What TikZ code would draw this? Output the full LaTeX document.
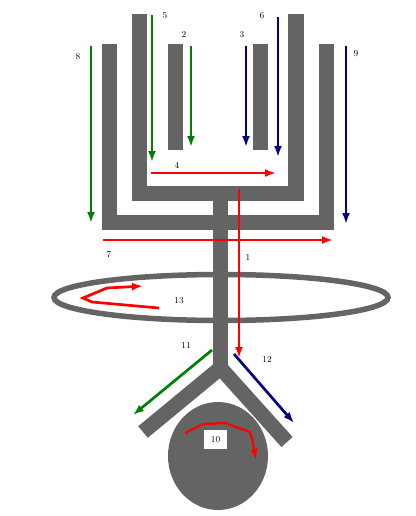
\documentclass[tikz,border=0pt]{standalone}
\usepackage{tikz}
\usetikzlibrary{arrows.meta}
\definecolor{bodygray}{RGB}{100,100,100}
\definecolor{flowgreen}{RGB}{0,128,0}
\definecolor{flowblue}{RGB}{0,0,128}
\tikzset{
	flow/.style={line width=2.7pt, -{Latex[length=11pt,width=8pt]}},
	greenflow/.style={flow, flowgreen},
	blueflow/.style={flow, flowblue},
	redflow/.style={flow, red},
	numlabel/.style={font=\fontsize{9}{10}\selectfont, inner sep=0pt}
}

\begin{document}
\begin{tikzpicture}[x=1pt,y=-1pt]
			\useasboundingbox (0,0) rectangle (415,516);
			
			% gray body
			\fill[bodygray] (132,14) rectangle (147,201);
			\fill[bodygray] (288,14) rectangle (304,201);
			\fill[bodygray] (132,186) rectangle (304,201);
			\fill[bodygray] (102,44) rectangle (117,230);
			\fill[bodygray] (319,44) rectangle (334,230);
			\fill[bodygray] (102,215) rectangle (334,230);
			\fill[bodygray] (168,44) rectangle (183,150);
			\fill[bodygray] (253,44) rectangle (268,150);
			\fill[bodygray] (213,201) rectangle (228,372);
			\draw[bodygray, line width=15pt, line join=miter] (143,432) -- (220.5,368) -- (287,442);
			\draw[bodygray, line width=5.5pt] (221,297.5) ellipse [x radius=167, y radius=23];
			\fill[bodygray] (218,456) ellipse [x radius=50, y radius=54];
			
			% arrow end points
			\coordinate (s5) at (152,15);   \coordinate (e5) at (152,162);
			\coordinate (s2) at (191,46);   \coordinate (e2) at (191,147);
			\coordinate (s3) at (246,46);   \coordinate (e3) at (246,147);
			\coordinate (s6) at (278,17);   \coordinate (e6) at (278,157);
			\coordinate (s8) at (91,46);    \coordinate (e8) at (91,223);
			\coordinate (s9) at (346,46);   \coordinate (e9) at (346,224);
			\coordinate (s4) at (151,173);  \coordinate (e4) at (276,173);
			\coordinate (s7) at (103,240);  \coordinate (e7) at (333,240);
			\coordinate (s1) at (239,189);  \coordinate (e1) at (239,358);
			\coordinate (s11) at (212,350); \coordinate (e11) at (133,415);
			\coordinate (s12) at (234,354); \coordinate (e12) at (294,423);
			\coordinate (s13) at (159,308); \coordinate (e13) at (143,286);
			\coordinate (s10) at (185,433); \coordinate (e10) at (256,460);
			
			\draw[greenflow] (s5) -- (e5);
			\draw[greenflow] (s2) -- (e2);
			\draw[blueflow] (s3) -- (e3);
			\draw[blueflow] (s6) -- (e6);
			\draw[greenflow] (s8) -- (e8);
			\draw[blueflow] (s9) -- (e9);
			\draw[redflow] (s4) -- (e4);
			\draw[redflow] (s7) -- (e7);
			\draw[redflow] (s1) -- (e1);
			\draw[greenflow] (s11) -- (e11);
			\draw[blueflow] (s12) -- (e12);
			\draw[redflow] (s13) -- (92,302) -- (83,298) -- (107,288) -- (e13);
			
			% label box in the ball
			\node[fill=white, minimum width=23pt, minimum height=19pt, inner sep=0pt] (box10) at (215.5,439.5) {};
			\draw[redflow, line width=2.2pt] (s10) -- (203,424) -- (225,423) -- (250,432) -- (253,443) -- (e10);
			
			% numbers
			\node[numlabel] (lab1) at (248,258) {1};
			\node[numlabel] (lab2) at (184,35) {2};
			\node[numlabel] (lab3) at (242,35) {3};
			\node[numlabel] (lab4) at (177,165) {4};
			\node[numlabel] (lab5) at (165,16) {5};
			\node[numlabel] (lab6) at (262,16) {6};
			\node[numlabel] (lab7) at (109,255) {7};
			\node[numlabel] (lab8) at (78,57) {8};
			\node[numlabel] (lab9) at (356,54) {9};
			\node[numlabel] (lab10) at (box10) {10};
			\node[numlabel] (lab11) at (186,345) {11};
			\node[numlabel] (lab12) at (267,359) {12};
			\node[numlabel] (lab13) at (179,301) {13};
		\end{tikzpicture}
\end{document}
